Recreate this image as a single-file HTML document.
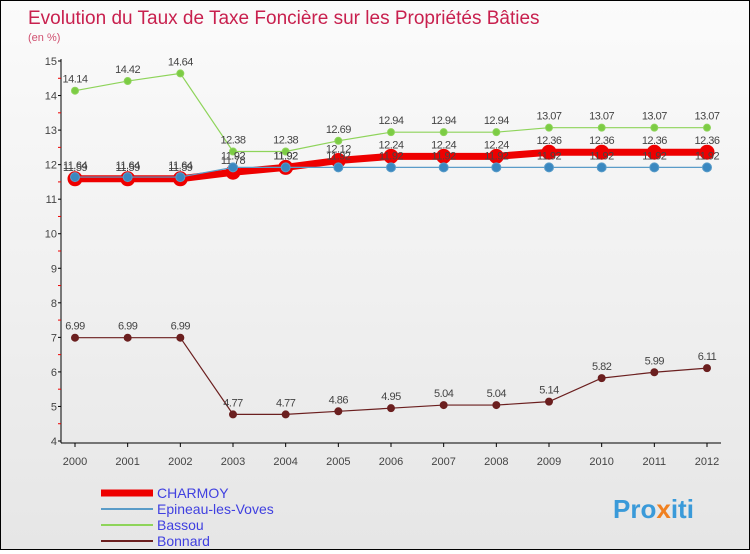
<!DOCTYPE html>
<html><head><meta charset="utf-8"><style>
body{margin:0;width:750px;height:550px;overflow:hidden;font-family:"Liberation Sans",sans-serif}
#wrap{position:absolute;left:0;top:0;width:748px;height:548px;border:1px solid #000;background:linear-gradient(#fbfbfb,#e6e6e6)}
</style></head><body>
<div id="wrap">
<svg id="c" width="748" height="548">
<text x="27" y="23" font-size="19" fill="#c8204e">Evolution du Taux de Taxe Foncière sur les Propriétés Bâties</text>
<text x="27" y="40" font-size="11" fill="#d05070">(en %)</text>
<g id="g"></g>
<text x="612" y="517" font-size="26" font-weight="bold" fill="#3a9ad9">Pro<tspan fill="#f08020">x</tspan>iti</text>
</svg></div>
<script>
const years=[2000,2001,2002,2003,2004,2005,2006,2007,2008,2009,2010,2011,2012];
const yTicks=[4,5,6,7,8,9,10,11,12,13,14,15];
const charmoy=[11.59,11.59,11.59,11.78,11.92,12.12,12.24,12.24,12.24,12.36,12.36,12.36,12.36];
const epineau=[11.64,11.64,11.64,11.92,11.92,11.92,11.92,11.92,11.92,11.92,11.92,11.92,11.92];
const bassou=[14.14,14.42,14.64,12.38,12.38,12.69,12.94,12.94,12.94,13.07,13.07,13.07,13.07];
const bonnard=[6.99,6.99,6.99,4.77,4.77,4.86,4.95,5.04,5.04,5.14,5.82,5.99,6.11];
const names=["CHARMOY","Epineau-les-Voves","Bassou","Bonnard"];
const NS="http://www.w3.org/2000/svg";
const g=document.getElementById('g');
const X=i=>74+i*(632/(years.length-1));
const Y=v=>440-(v-4)*(380/11);
function el(t,a,txt){const e=document.createElementNS(NS,t);for(const k in a)e.setAttribute(k,a[k]);if(txt!==undefined)e.textContent=txt;g.appendChild(e);return e;}
let ax=el('line',{x1:60,y1:58,x2:60,y2:442,stroke:'#000'});


let bx=el('line',{x1:60,y1:442,x2:720,y2:442,stroke:'#000'});


yTicks.forEach(v=>{
 const t=el('text',{x:56,y:Y(v)+4,'font-size':11,fill:'#444','text-anchor':'end'},v);
 
 
 el('line',{x1:57,y1:Y(v),x2:60,y2:Y(v),stroke:'#000'});
 if(v<15)el('line',{x1:57,y1:Y(v+0.5),x2:60,y2:Y(v+0.5),stroke:'#e00'});
});
years.forEach((y,i)=>{
 const t=el('text',{x:X(i),y:464,'font-size':11,fill:'#444','text-anchor':'middle'},y);
 
 
 el('line',{x1:X(i),y1:442,x2:X(i),y2:446,stroke:'#000'});
});
function series(data,color,w,r,fill,name){
 const p=el('polyline',{points:data.map((v,i)=>X(i)+','+Y(v)).join(' '),fill:'none',stroke:color,'stroke-width':w});
 
 
 data.forEach((v,i)=>{
  const c=el('circle',{cx:X(i),cy:Y(v),r:r,fill:fill,stroke:color,'stroke-width':1});
  
  
  const t=el('text',{x:X(i),y:Y(v)-8,'font-size':11,fill:'#444','text-anchor':'middle','letter-spacing':'-0.5'},v.toFixed(2).replace(/0$/,'').replace(/\.$/,''));
  
  
 });
}
series(bonnard,'#6b1f1f',1.2,3.5,'#6b1f1f','bonnard');
series(bassou,'#8ed45a',1.2,3.5,'#7ccc44','bassou');
series(charmoy,'#ee0000',7,7,'#ee0000','charmoy');
series(epineau,'#5a9cc8',1.2,4.5,'#3a88c0','epineau');
const lc=['#ee0000','#5a9cc8','#8ed45a','#6b1f1f'],lw=[7,2,2,2];
names.forEach((n,i)=>{
 const yy=492+i*16;
 const l=el('line',{x1:100,y1:yy,x2:152,y2:yy,stroke:lc[i],'stroke-width':lw[i]});
 
 
 const t=el('text',{x:156,y:yy+5,'font-size':14,fill:'#4040e0'},n);
 
 
});
</script>
</body></html>
